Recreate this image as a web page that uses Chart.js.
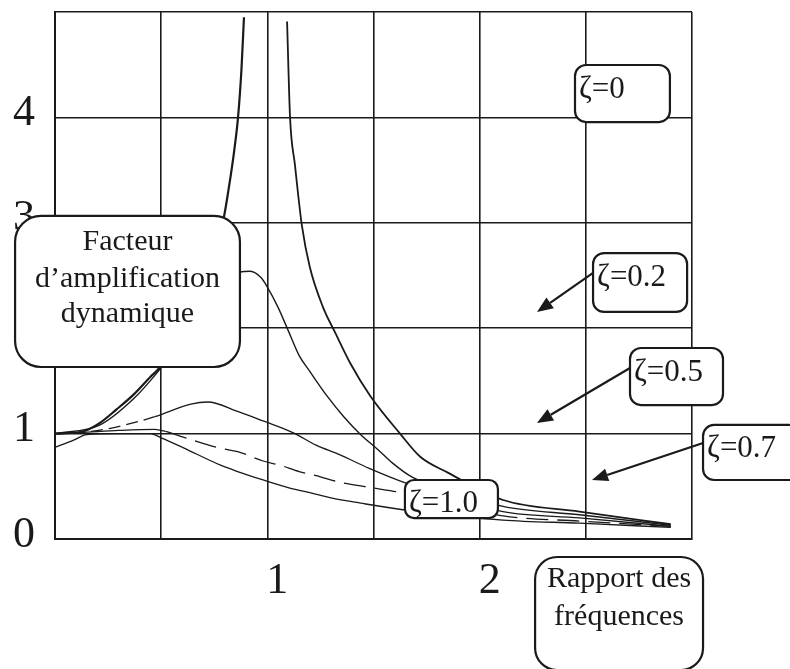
<!DOCTYPE html>
<html>
<head>
<meta charset="utf-8">
<script src="https://cdn.jsdelivr.net/npm/chart.js@4.4.1/dist/chart.umd.min.js"></script>
<style>
  body { margin: 0; background: #fff; }
  canvas { display: block; }
</style>
</head>
<body>
<canvas id="chart" width="790" height="669"></canvas>
<script>
// values (frequency ratio -> amplification factor)
const zeta0LeftRatio = [0, 0.13, 0.21, 0.29, 0.37, 0.45, 0.49, 0.65, 0.79, 0.82, 0.845, 0.862, 0.878, 0.89];
const zeta0LeftAmp   = [1.0, 1.02, 1.10, 1.23, 1.37, 1.54, 1.62, 2.20, 3.0, 3.35, 3.70, 4.0, 4.45, 4.95];
const zeta0RightRatio = [1.093, 1.107, 1.13, 1.163, 1.2, 1.262, 1.319, 1.39, 1.484, 1.625, 1.72, 1.85, 2.11, 2.47, 2.90];
const zeta0RightAmp   = [4.91, 4.0, 3.55, 2.97, 2.58, 2.20, 1.96, 1.67, 1.36, 1.0, 0.78, 0.63, 0.37, 0.26, 0.14];

const zeta02Ratio = [0, 0.21, 0.37, 0.49, 0.68, 0.87, 0.92, 0.97, 1.0, 1.05, 1.10, 1.15, 1.20, 1.28, 1.36, 1.44, 1.52, 1.59, 1.68, 2.11, 2.47, 2.90];
const zeta02Amp   = [1.0, 1.08, 1.33, 1.60, 2.10, 2.53, 2.54, 2.48, 2.39, 2.20, 1.97, 1.74, 1.59, 1.36, 1.16, 0.99, 0.85, 0.72, 0.59, 0.31, 0.23, 0.13];

const zeta05Ratio = [0, 0.12, 0.26, 0.47, 0.64, 0.72, 0.86, 0.98, 1.12, 1.23, 1.34, 1.48, 1.64, 2.11, 2.47, 2.90];
const zeta05Amp   = [1.0, 1.01, 1.05, 1.16, 1.28, 1.30, 1.21, 1.12, 1.01, 0.89, 0.80, 0.67, 0.54, 0.26, 0.20, 0.12];

const zeta07Ratio = [0, 0.12, 0.30, 0.47, 0.52, 0.60, 0.78, 0.86, 0.98, 1.06, 1.15, 1.25, 1.34, 1.48, 1.63, 2.11, 2.47, 2.90];
const zeta07Amp   = [1.0, 1.01, 1.03, 1.04, 1.02, 0.97, 0.86, 0.83, 0.74, 0.70, 0.64, 0.59, 0.54, 0.49, 0.44, 0.22, 0.17, 0.12];

const zeta10Ratio = [0, 0.08, 0.15, 0.30, 0.45, 0.50, 0.60, 0.78, 0.86, 0.98, 1.11, 1.20, 1.30, 1.44, 1.63, 2.11, 2.47, 2.90];
const zeta10Amp   = [0.87, 0.93, 0.99, 1.0, 1.0, 0.96, 0.87, 0.70, 0.64, 0.56, 0.48, 0.44, 0.39, 0.34, 0.28, 0.18, 0.15, 0.11];

const xTickLabels = [1, 2];
const yTickLabels = [0, 1, 2, 3, 4];

const ink = '#1a1a1a';
const serif = "'Liberation Serif', 'Times New Roman', serif";

const toPoints = (xs, ys) => xs.map((x, i) => ({ x: x, y: ys[i] }));

// boxes and arrows, placed in data units so they follow the scales
const notes = [
  { lines: ['Facteur', 'd\u2019amplification', 'dynamique'], x0: -0.188, x1: 0.871, y0: 3.065, y1: 1.632, r: 26, size: 30, center: true, base: [34, 71, 106] },
  { lines: ['\u03b6=0'],   x0: 2.449, x1: 2.896, y0: 4.497, y1: 3.956, r: 11, size: 31, base: [33] },
  { lines: ['\u03b6=0.2'], x0: 2.534, x1: 2.977, y0: 2.713, y1: 2.154, r: 11, size: 31, base: [33] },
  { lines: ['\u03b6=0.5'], x0: 2.708, x1: 3.146, y0: 1.812, y1: 1.271, r: 11, size: 31, base: [33] },
  { lines: ['\u03b6=0.7'], x0: 3.052, x1: 3.509, y0: 1.082, y1: 0.560, r: 11, size: 31, base: [32] },
  { lines: ['\u03b6=1.0'], x0: 1.648, x1: 2.086, y0: 0.560, y1: 0.199, r: 9, size: 31, base: [32] },
  { lines: ['Rapport des', 'fr\u00e9quences'], x0: 2.261, x1: 3.052, y0: -0.171, y1: -1.243, r: 22, size: 30, center: true, base: [30, 68] }
];
const arrows = [
  { from: [2.534, 2.524], to: [2.270, 2.154] },
  { from: [2.708, 1.622], to: [2.270, 1.101] },
  { from: [3.052, 0.911], to: [2.529, 0.560] }
];

function roundBox(ctx, x, y, w, h, r) {
  ctx.beginPath();
  ctx.moveTo(x + r, y);
  ctx.arcTo(x + w, y, x + w, y + h, r);
  ctx.arcTo(x + w, y + h, x, y + h, r);
  ctx.arcTo(x, y + h, x, y, r);
  ctx.arcTo(x, y, x + w, y, r);
  ctx.closePath();
}

const notesPlugin = {
  id: 'notes',
  afterDraw(chart) {
    const { ctx, scales: { x, y } } = chart;
    ctx.save();
    ctx.strokeStyle = ink;
    ctx.fillStyle = ink;
    ctx.lineWidth = 2.2;
    arrows.forEach(a => {
      const x1 = x.getPixelForValue(a.from[0]), y1 = y.getPixelForValue(a.from[1]);
      const x2 = x.getPixelForValue(a.to[0]), y2 = y.getPixelForValue(a.to[1]);
      const ang = Math.atan2(y2 - y1, x2 - x1);
      const len = 16, half = 6.5;
      const bx = x2 - len * Math.cos(ang), by = y2 - len * Math.sin(ang);
      ctx.beginPath();
      ctx.moveTo(x1, y1);
      ctx.lineTo(bx, by);
      ctx.stroke();
      ctx.beginPath();
      ctx.moveTo(x2, y2);
      ctx.lineTo(bx + half * Math.sin(ang), by - half * Math.cos(ang));
      ctx.lineTo(bx - half * Math.sin(ang), by + half * Math.cos(ang));
      ctx.closePath();
      ctx.fill();
    });
    notes.forEach(n => {
      const left = x.getPixelForValue(n.x0), right = x.getPixelForValue(n.x1);
      const top = y.getPixelForValue(n.y0), bottom = y.getPixelForValue(n.y1);
      roundBox(ctx, left, top, right - left, bottom - top, n.r);
      ctx.fillStyle = '#fff';
      ctx.fill();
      ctx.lineWidth = 2.2;
      ctx.strokeStyle = ink;
      ctx.stroke();
      ctx.fillStyle = ink;
      ctx.font = n.size + 'px ' + serif;
      ctx.textBaseline = 'alphabetic';
      ctx.textAlign = n.center ? 'center' : 'left';
      const tx = n.center ? (left + right) / 2 : left + 4;
      n.lines.forEach((t, i) => ctx.fillText(t, tx, top + n.base[i]));
    });
    ctx.restore();
  }
};

const lineStyle = { borderColor: ink, pointRadius: 0, fill: false, cubicInterpolationMode: 'monotone' };

new Chart(document.getElementById('chart'), {
  type: 'line',
  data: {
    datasets: [
      { ...lineStyle, label: '\u03b6=0', data: toPoints(zeta0LeftRatio, zeta0LeftAmp), borderWidth: 2.2 },
      { ...lineStyle, label: '\u03b6=0 ', data: toPoints(zeta0RightRatio, zeta0RightAmp), borderWidth: 1.8 },
      { ...lineStyle, label: '\u03b6=0.2', data: toPoints(zeta02Ratio, zeta02Amp), borderWidth: 1.4 },
      { ...lineStyle, label: '\u03b6=0.5', data: toPoints(zeta05Ratio, zeta05Amp), borderWidth: 1.3,
        segment: { borderDash: c => c.p1.parsed.x <= 0.5 ? [12, 6] : undefined } },
      { ...lineStyle, label: '\u03b6=0.7', data: toPoints(zeta07Ratio, zeta07Amp), borderWidth: 1.3,
        segment: { borderDash: c => c.p0.parsed.x >= 0.5 ? [22, 9] : undefined } },
      { ...lineStyle, label: '\u03b6=1.0', data: toPoints(zeta10Ratio, zeta10Amp), borderWidth: 1.3 }
    ]
  },
  options: {
    responsive: false,
    animation: false,
    layout: { padding: { top: 12, right: 98, left: 0, bottom: 0 } },
    plugins: { legend: { display: false }, tooltip: { enabled: false } },
    scales: {
      x: {
        type: 'linear', min: 0, max: 3,
        grid: { color: ink, lineWidth: 1.6, drawTicks: false },
        border: { color: ink, width: 2 },
        ticks: {
          stepSize: 0.5, autoSkip: false, maxRotation: 0, padding: 16, labelOffset: 10,
          color: ink, font: { family: serif, size: 44 },
          callback: v => xTickLabels.includes(v) ? String(v) : ''
        },
        afterFit: s => { s.height = 130; s.paddingLeft = 0; s.paddingRight = 0; }
      },
      y: {
        min: 0, max: 5,
        grid: { color: ink, lineWidth: 1.6, drawTicks: false },
        border: { color: ink, width: 2 },
        ticks: {
          stepSize: 1, padding: 20, labelOffset: -4,
          color: ink, font: { family: serif, size: 44 },
          callback: v => yTickLabels.includes(v) ? String(v) : ''
        },
        afterFit: s => { s.width = 55; s.paddingTop = 0; s.paddingBottom = 0; }
      }
    }
  },
  plugins: [notesPlugin]
});
</script>
</body>
</html>
